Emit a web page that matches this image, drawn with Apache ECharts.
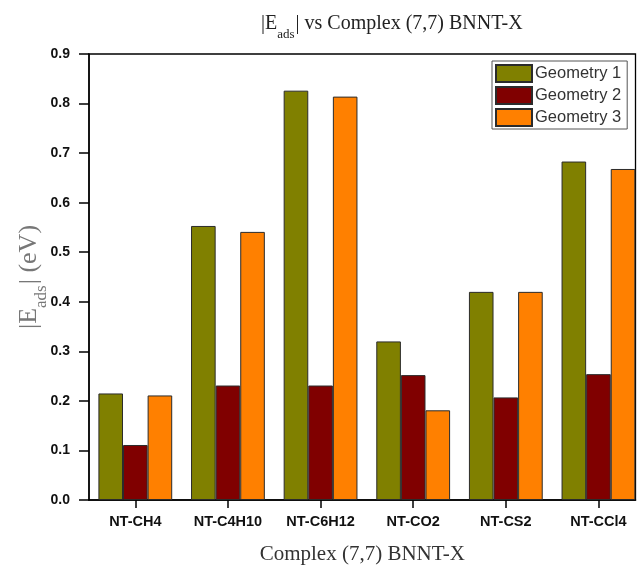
<!DOCTYPE html>
<html>
<head>
<meta charset="utf-8">
<script src="https://cdn.jsdelivr.net/npm/echarts@6/dist/echarts.min.js"></script>
<style>
  html, body { margin: 0; padding: 0; background: #fff; }
  #chart { width: 644px; height: 566px; }
</style>
</head>
<body>
<div id="chart"></div>
<script>
// Adsorbates on the (7,7) BNNT, one group of bars per complex
const categories = ['NT-CH4', 'NT-C4H10', 'NT-C6H12', 'NT-CO2', 'NT-CS2', 'NT-CCl4'];
const seriesNames = ['Geometry 1', 'Geometry 2', 'Geometry 3'];
// |E_ads| in eV for each geometry
const geometry1 = [0.215, 0.553, 0.826, 0.320, 0.420, 0.683];
const geometry2 = [0.111, 0.231, 0.231, 0.252, 0.207, 0.254];
const geometry3 = [0.211, 0.541, 0.814, 0.181, 0.420, 0.668];
const yTicks = [0.0, 0.1, 0.2, 0.3, 0.4, 0.5, 0.6, 0.7, 0.8, 0.9];

const colors = ['#808000', '#800000', '#ff8000'];
const positions = categories.map((_, i) => i + 1);

const serif = '"Liberation Serif", "Times New Roman", serif';
const sans = '"Liberation Sans", Arial, sans-serif';

const chart = echarts.init(document.getElementById('chart'), null, { renderer: 'canvas' });

function makeSeries(name, values, color) {
  return {
    name: name,
    type: 'bar',
    barWidth: 24.6,
    barGap: '0%',
    itemStyle: { color: color, borderColor: '#2b2b2b', borderWidth: 1 },
    data: values.map((v, i) => [positions[i], v])
  };
}

chart.setOption({
  animation: false,
  backgroundColor: '#fff',
  title: {
    text: '{n||E}{s|ads}{n|| vs Complex (7,7) BNNT-X}',
    left: 256,
    top: 7,
    textStyle: {
      fontWeight: 'normal',
      rich: {
        n: { fontFamily: serif, fontSize: 20, fontWeight: 'normal', color: '#222', verticalAlign: 'bottom', lineHeight: 22 },
        s: { fontFamily: serif, fontSize: 13, fontWeight: 'normal', color: '#222', verticalAlign: 'bottom', lineHeight: 22, padding: [0, 1, -7, 0] }
      }
    }
  },
  legend: {
    orient: 'vertical',
    left: 492,
    top: 61,
    padding: [3, 6, 2, 3],
    icon: 'rect',
    itemWidth: 36,
    itemHeight: 17,
    itemGap: 3,
    borderColor: '#555',
    borderWidth: 1,
    backgroundColor: '#fff',
    textStyle: { fontFamily: sans, fontSize: 16.5, color: '#333', padding: [0, 0, 0, -2] },
    data: seriesNames
  },
  grid: {
    left: 89,
    right: 8.5,
    top: 54,
    bottom: 66,
    outerBoundsMode: 'none',
    containLabel: false,
    show: true,
    borderColor: '#000',
    borderWidth: 1.3,
    backgroundColor: 'transparent'
  },
  xAxis: {
    type: 'value',
    min: 0.5,
    max: 6.4,
    splitLine: { show: false },
    axisLine: { show: true, onZero: false, lineStyle: { color: '#000', width: 1.5 } },
    axisTick: { show: true, length: 8, customValues: positions, lineStyle: { color: '#000', width: 1.5 } },
    axisLabel: {
      customValues: positions,
      formatter: v => categories[Math.round(v) - 1] || '',
      fontFamily: sans,
      fontWeight: 'bold',
      fontSize: 14.5,
      color: '#111',
      margin: 14
    },
    name: 'Complex (7,7) BNNT-X',
    nameLocation: 'middle',
    nameGap: 44,
    nameMoveOverlap: false,
    nameTextStyle: { fontFamily: serif, fontSize: 21, color: '#333' }
  },
  yAxis: {
    type: 'value',
    min: 0,
    max: 0.9,
    interval: 0.1,
    splitLine: { show: false },
    axisLine: { show: true, lineStyle: { color: '#000', width: 1.5 } },
    axisTick: { show: true, length: 10, lineStyle: { color: '#000', width: 1.5 } },
    axisLabel: {
      formatter: v => {
        const t = yTicks.find(x => Math.abs(x - v) < 1e-9);
        return (t !== undefined ? t : v).toFixed(1);
      },
      fontFamily: sans,
      fontWeight: 'bold',
      fontSize: 14,
      color: '#111',
      margin: 19
    },
    name: '{n||E}{s|ads}{n|| (eV)}',
    nameLocation: 'middle',
    nameGap: 47,
    nameMoveOverlap: false,
    nameTextStyle: {
      rich: {
        n: { fontFamily: serif, fontSize: 26, color: '#777', verticalAlign: 'bottom', lineHeight: 28 },
        s: { fontFamily: serif, fontSize: 17, color: '#777', verticalAlign: 'bottom', lineHeight: 28, padding: [0, 1, -8, 0] }
      }
    }
  },
  series: [
    makeSeries(seriesNames[0], geometry1, colors[0]),
    makeSeries(seriesNames[1], geometry2, colors[1]),
    makeSeries(seriesNames[2], geometry3, colors[2])
  ]
});
</script>
</body>
</html>
